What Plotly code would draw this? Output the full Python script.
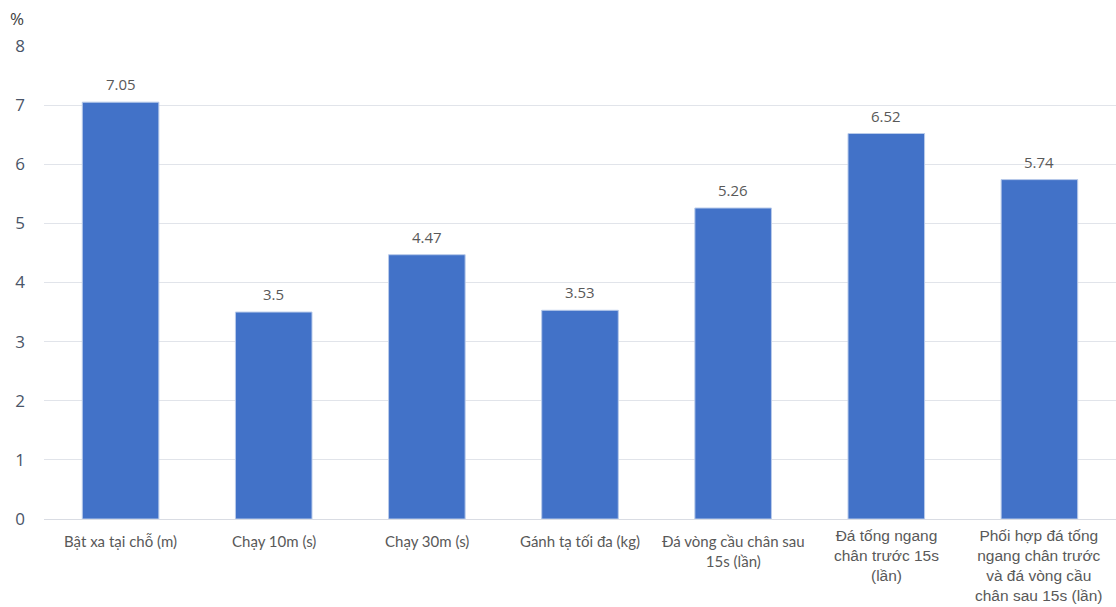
import plotly.graph_objects as go

categories = [
    "Bật xa tại chỗ (m)",
    "Chạy 10m (s)",
    "Chạy 30m (s)",
    "Gánh tạ tối đa (kg)",
    "Đá vòng cầu chân sau<br>15s (lần)",
    "Đá tống ngang<br>chân trước 15s<br>(lần)",
    "Phối hợp đá tống<br>ngang chân trước<br>và đá vòng cầu<br>chân sau 15s (lần)",
]
values = [7.05, 3.5, 4.47, 3.53, 5.26, 6.52, 5.74]
value_labels = ["7.05", "3.5", "4.47", "3.53", "5.26", "6.52", "5.74"]
label_sizes = [15, 15, 15, 15, 15, 15.5, 15.5]
label_fonts = ["Lato", "Lato", "Lato", "Lato", "Lato", "Liberation Sans", "Liberation Sans"]
label_shift = [-11, -11, -11, -11, -11, -6, -6]
y_ticks = [0, 1, 2, 3, 4, 5, 6, 7, 8]

x_idx = list(range(len(categories)))

fig = go.Figure()
fig.add_trace(go.Bar(
    x=x_idx,
    y=values,
    width=0.5,
    marker=dict(color="#4272C8", line=dict(color="#B9CBEA", width=1)),
    showlegend=False,
    hoverinfo="skip",
))

annotations = []
for i, (v, t) in enumerate(zip(values, value_labels)):
    annotations.append(dict(
        x=i, y=v, xref="x", yref="y", text=t, showarrow=False,
        yanchor="bottom", yshift=6,
        font=dict(family="Open Sans", size=15, color="#595959"),
    ))
for i, (c, s, f, sh) in enumerate(zip(categories, label_sizes, label_fonts, label_shift)):
    annotations.append(dict(
        x=i, y=0, xref="x", yref="paper", text=c, showarrow=False,
        yanchor="top", yshift=sh, align="center",
        font=dict(family=f, size=s, color="#595959"),
    ))
annotations.append(dict(
    x=0, y=1, xref="paper", yref="paper", text="%", showarrow=False,
    xanchor="center", yanchor="middle", xshift=-27, yshift=28,
    font=dict(family="Open Sans", size=17, color="#404040"),
))

fig.update_layout(
    width=1116, height=607,
    margin=dict(l=44, r=0, t=46, b=88),
    paper_bgcolor="white", plot_bgcolor="white",
    xaxis=dict(range=[-0.5, len(categories) - 0.5], showticklabels=False,
               showgrid=False, zeroline=False, showline=False, ticks=""),
    yaxis=dict(range=[0, 8], tickvals=y_ticks, showgrid=True, gridcolor="#E1E4EA",
               gridwidth=1, zeroline=True, zerolinecolor="#D9DCE3", zerolinewidth=1,
               showline=False, ticks="", ticklabelstandoff=18,
               tickfont=dict(family="Open Sans", size=17, color="#4A5568")),
    annotations=annotations,
    bargap=0.5,
)

fig.write_html("out.html")
